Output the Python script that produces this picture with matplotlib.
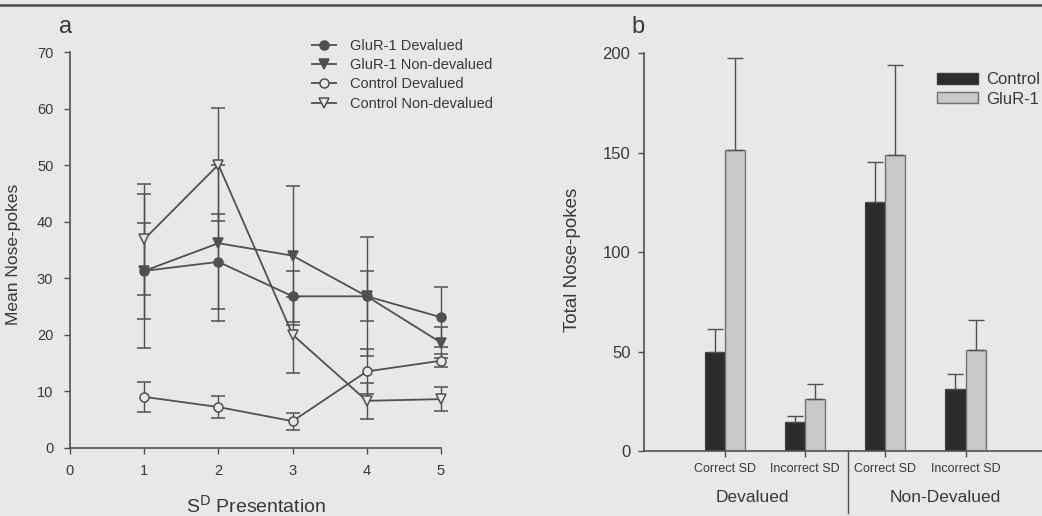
import matplotlib.pyplot as plt
import matplotlib.transforms as mtransforms
from matplotlib.lines import Line2D
from matplotlib.patches import Patch

plt.rcParams['font.family'] = ['Liberation Sans', 'DejaVu Sans']

# (a) mean nose-pokes per SD presentation
presentation = [1, 2, 3, 4, 5]
glur_dev = [31.3, 32.9, 26.8, 26.8, 23.1]
glur_dev_err = [13.6, 8.4, 4.5, 4.4, 5.3]
glur_nondev = [31.3, 36.2, 34.0, 26.8, 18.6]
glur_nondev_err = [8.5, 13.8, 12.3, 10.5, 2.8]
ctrl_dev = [9.0, 7.2, 4.7, 13.5, 15.4]
ctrl_dev_err = [2.7, 1.9, 1.5, 4.0, 1.1]
ctrl_nondev = [36.9, 50.1, 20.0, 8.3, 8.6]
ctrl_nondev_err = [9.8, 10.0, 6.7, 3.2, 2.1]

# (b) total nose-pokes
sd_labels = ["Correct SD", "Incorrect SD", "Correct SD", "Incorrect SD"]
group_labels = ["Devalued", "Non-Devalued"]
ctrl_total = [49.6, 14.4, 125.3, 31.0]
ctrl_total_err = [11.6, 3.4, 20.2, 7.9]
glur_total = [151.5, 26.2, 148.9, 50.6]
glur_total_err = [46.0, 7.7, 45.0, 15.4]

BG = '#e8e8e8'
INK = '#383838'
LINE = '#505050'

fig = plt.figure(figsize=(10.42, 5.16), dpi=100, facecolor=BG)

# rule along the top of the page
fig.add_artist(Line2D([0, 1], [1 - 5 / 516] * 2, transform=fig.transFigure,
                      color='#4a4a4a', lw=1.8))

# ---- panel a ----
ax1 = fig.add_axes([70 / 1042, 1 - 447.7 / 516, (441 - 70) / 1042, (447.7 - 52.3) / 516])
ax1.set_facecolor('none')

series = [
    (glur_dev, glur_dev_err, 'o', LINE, "GluR-1 Devalued"),
    (glur_nondev, glur_nondev_err, 'v', LINE, "GluR-1 Non-devalued"),
    (ctrl_dev, ctrl_dev_err, 'o', BG, "Control Devalued"),
    (ctrl_nondev, ctrl_nondev_err, 'v', BG, "Control Non-devalued"),
]
for vals, err, mk, face, name in series:
    ax1.errorbar(presentation, vals, yerr=err, fmt='-' + mk, color=LINE, lw=1.3,
                 elinewidth=1.0, capsize=5, capthick=1.0, ms=6.5, mfc=face,
                 mec=LINE, mew=1.1, label=name, clip_on=False)

ax1.set_xlim(0, 5)
ax1.set_ylim(0, 70)
ax1.set_xticks(range(0, 6))
ax1.set_yticks(range(0, 71, 10))
for s in ['top', 'right']:
    ax1.spines[s].set_visible(False)
for s in ['left', 'bottom']:
    ax1.spines[s].set_color(LINE)
    ax1.spines[s].set_linewidth(1.2)
ax1.tick_params(length=4, width=1, color=LINE, labelsize=10.5, labelcolor=INK, pad=8)
ax1.text(0.5, -0.148, r"S$^{\mathrm{D}}$ Presentation", transform=ax1.transAxes,
         ha='center', va='center', fontsize=14, color=INK)
ax1.text(-0.151, 0.49, "Mean Nose-pokes", transform=ax1.transAxes, rotation=90,
         ha='center', va='center', fontsize=12.5, color=INK)

handles, labels = ax1.get_legend_handles_labels()
handles = [h[0] for h in handles]
fig.legend(handles, labels, loc='upper left', bbox_to_anchor=(305 / 1042, 1 - 32 / 516),
           frameon=False, fontsize=10.5, handlelength=1.6, handletextpad=1.0,
           labelspacing=0.35, borderpad=0, labelcolor=INK)

fig.text(66 / 1042, 1 - 27 / 516, "a", fontsize=17, color=INK, ha='center', va='center')
fig.text(638 / 1042, 1 - 27 / 516, "b", fontsize=17, color=INK, ha='center', va='center')

# ---- panel b ----
ax2 = fig.add_axes([644.3 / 1042, 1 - 451 / 516, (1045.8 - 644.3) / 1042, (451 - 53.3) / 516])
ax2.set_facecolor('none')

pos = [1, 2, 3, 4]
w = 0.25
ax2.bar([p - w / 2 for p in pos], ctrl_total, width=w, color='#2c2c2c',
        edgecolor='#3a3a3a', lw=0.8, label="Control")
ax2.bar([p + w / 2 for p in pos], glur_total, width=w, color='#c8c8c8',
        edgecolor='#707070', lw=1.0, label="GluR-1")
ax2.errorbar([p - w / 2 for p in pos], ctrl_total, yerr=[[0] * 4, ctrl_total_err],
             fmt='none', ecolor=LINE, elinewidth=1.0, capsize=6, capthick=1.0)
ax2.errorbar([p + w / 2 for p in pos], glur_total, yerr=[[0] * 4, glur_total_err],
             fmt='none', ecolor=LINE, elinewidth=1.0, capsize=6, capthick=1.0)

ax2.set_xlim(0, 5)
ax2.set_ylim(0, 200)
ax2.set_yticks(range(0, 201, 50))
ax2.set_xticks(pos)
ax2.set_xticklabels(sd_labels, fontsize=9, color=INK)
for s in ['top', 'right']:
    ax2.spines[s].set_visible(False)
for s in ['left', 'bottom']:
    ax2.spines[s].set_color(LINE)
    ax2.spines[s].set_linewidth(1.2)
ax2.tick_params(axis='y', length=4, width=1, color=LINE, labelsize=12, labelcolor=INK, pad=6)
ax2.tick_params(axis='x', length=4, width=1, color=LINE, pad=5)

trans = mtransforms.blended_transform_factory(ax2.transData, ax2.transAxes)
ax2.add_line(Line2D([2.54, 2.54], [0, -0.156], transform=trans, color=LINE,
                    lw=1.0, clip_on=False))
ax2.text(1.35, -0.118, group_labels[0], transform=trans, ha='center', va='center',
         fontsize=12.5, color=INK)
ax2.text(3.75, -0.118, group_labels[1], transform=trans, ha='center', va='center',
         fontsize=12.5, color=INK)
ax2.text(-0.18, 0.48, "Total Nose-pokes", transform=ax2.transAxes, rotation=90,
         ha='center', va='center', fontsize=13.5, color=INK)

fig.legend(handles=[Patch(facecolor='#2c2c2c', edgecolor='#3a3a3a', label="Control"),
                    Patch(facecolor='#c8c8c8', edgecolor='#707070', label="GluR-1")],
           loc='upper left', bbox_to_anchor=(929 / 1042, 1 - 64 / 516), frameon=False,
           fontsize=12, handlelength=2.45, handleheight=0.6, handletextpad=0.45,
           labelspacing=0.25, borderpad=0, labelcolor=INK)

fig.savefig("out.png", dpi=100, facecolor=BG)
